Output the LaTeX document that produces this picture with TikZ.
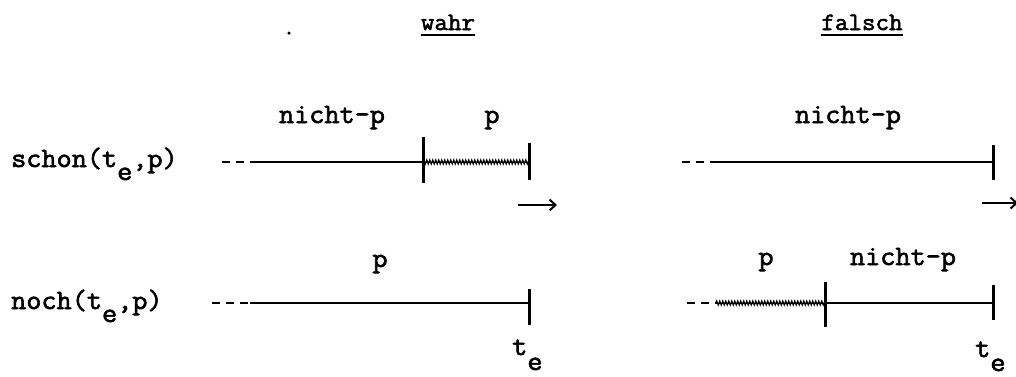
\documentclass[tikz,border=0pt]{standalone}
\usepackage{fontspec}
\usetikzlibrary{arrows.meta,decorations.pathmorphing}
\newfontfamily\tw{Latin Modern Mono}[FakeStretch=1.05,FakeBold=2.2]
\tikzset{
  lbl/.style={font=\tw\fontsize{28}{28}\selectfont, inner sep=0pt, anchor=base},
  hd/.style={font=\tw\fontsize{25}{25}\selectfont, inner sep=0pt, anchor=base},
  axis/.style={line width=2pt},
  tickline/.style={line width=3pt},
  pre/.style={line width=2pt, dash pattern=on 8pt off 6pt},
  wav/.style={line width=1.2pt, decorate, decoration={zigzag, segment length=3pt, amplitude=2pt}},
  arr/.style={line width=2pt, -{Straight Barb[length=6pt,width=11pt]}},
  uline/.style={line width=2.2pt}
}
\begin{document}
\begin{tikzpicture}[x=1pt,y=-1pt]
\useasboundingbox (0,0) rectangle (1016,376);
% headings
\node[hd] (wahr) at (448,30) {wahr};
\node[hd] (falsch) at (862,30) {falsch};
\draw[uline] ([yshift=-5pt]wahr.base west) -- ([yshift=-5pt]wahr.base east);
\draw[uline] ([yshift=-5pt]falsch.base west) -- ([yshift=-5pt]falsch.base east);
\node[circle, fill, inner sep=0pt, minimum size=3.5pt] (dot) at (289,33) {};
% row labels
\node[lbl, anchor=base west] (schon) at (11,167) {schon(t\raisebox{-13pt}{e},p)};
\node[lbl, anchor=base west] (noch) at (11,309) {noch(t\raisebox{-13pt}{e},p)};
% segment labels
\node[lbl] (np1) at (332,123) {nicht-p};
\node[lbl] (p1) at (492,123) {p};
\node[lbl] (np2) at (848,123) {nicht-p};
\node[lbl] (p2) at (380,267) {p};
\node[lbl] (p3) at (766,265) {p};
\node[lbl] (np3) at (903,265) {nicht-p};
\node[lbl, anchor=base west] (te1) at (512,355) {t\raisebox{-15pt}{e}};
\node[lbl, anchor=base west] (te2) at (975,357) {t\raisebox{-14pt}{e}};
% row 1 left
\coordinate (A0) at (222,162); \coordinate (A1) at (252,162);
\coordinate (A2) at (423,162); \coordinate (A3) at (529,162);
\draw[pre] (A0) -- (A1);
\draw[axis] (A1) -- (A2);
\draw[line width=1pt] (A2) -- (A3);
\draw[wav] (A2) -- (A3);
\draw[tickline] ([yshift=25pt]A2) -- ([yshift=-21pt]A2);
\draw[tickline] ([yshift=19pt]A3) -- ([yshift=-18pt]A3);
% row 1 right
\coordinate (B0) at (682,162); \coordinate (B1) at (715,162);
\coordinate (B3) at (993,162);
\draw[pre] (B0) -- (B1);
\draw[axis] (B1) -- (B3);
\draw[tickline] ([yshift=17pt]B3) -- ([yshift=-18pt]B3);
% arrows
\coordinate (R1a) at (518,205); \coordinate (R1b) at (557,205);
\draw[arr] (R1a) -- (R1b);
\coordinate (R2a) at (982,203); \coordinate (R2b) at (1018,203);
\draw[arr] (R2a) -- (R2b);
% row 2 left
\coordinate (C0) at (212,303); \coordinate (C1) at (250,303);
\coordinate (C3) at (529,303);
\draw[pre] (C0) -- (C1);
\draw[axis] (C1) -- (C3);
\draw[tickline] ([yshift=14pt]C3) -- ([yshift=-22pt]C3);
% row 2 right
\coordinate (D0) at (687,303); \coordinate (D1) at (716,303);
\coordinate (D2) at (825,303); \coordinate (D3) at (993,303);
\draw[pre] (D0) -- (D1);
\draw[line width=1pt] (D1) -- (D2);
\draw[wav] (D1) -- (D2);
\draw[axis] (D2) -- (D3);
\draw[tickline] ([yshift=21pt]D2) -- ([yshift=-24pt]D2);
\draw[tickline] ([yshift=18pt]D3) -- ([yshift=-17pt]D3);
\end{tikzpicture}
\end{document}
